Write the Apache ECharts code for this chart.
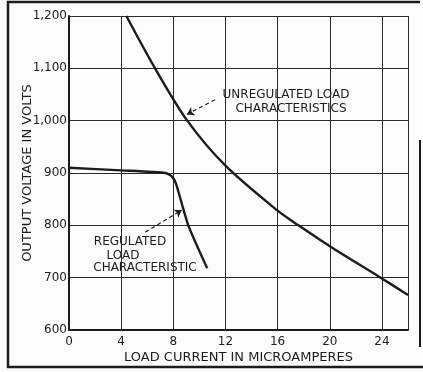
<!DOCTYPE html>
<html>
<head>
<meta charset="utf-8">
<style>
  html, body { margin: 0; padding: 0; background: #fcfcfa; }
  #chart { width: 423px; height: 372px; }
</style>
<script src="https://cdn.jsdelivr.net/npm/echarts@6/dist/echarts.min.js"></script>
</head>
<body>
<div id="chart"></div>
<script>
// Load current (microamperes) vs output voltage (volts)
const currentTicks = [0, 4, 8, 12, 16, 20, 24];
const voltageTicks = [600, 700, 800, 900, 1000, 1100, 1200];

// Unregulated supply: voltage falls steadily with load
const unregulatedCurrent = [4.4, 6.6, 9.07, 12.0, 16.0, 17.6, 20.0, 23.9, 26.0];
const unregulatedVoltage = [1200, 1100, 1000, 914, 828, 800, 760, 700, 667];

// Regulated supply: nearly flat until the regulator drops out
const regulatedCurrent = [0, 4.0, 7.4, 7.9, 8.2, 9.15, 10.6];
const regulatedVoltage = [910, 905, 900, 893, 880, 800, 718];

const ink = '#1c1c1c';
const font = 'DejaVu Sans';

function pairs(xs, ys) { return xs.map((x, i) => [x, ys[i]]); }

const chart = echarts.init(document.getElementById('chart'), null, { renderer: 'canvas' });

chart.setOption({
  backgroundColor: '#fcfcfa',
  animation: false,
  grid: { left: 69, top: 16, right: 15, bottom: 42, containLabel: false },
  xAxis: {
    type: 'value', min: 0, max: 26, interval: 4,
    axisLine: { show: true, onZero: false, lineStyle: { color: ink, width: 2 } },
    axisTick: { show: false },
    splitLine: { show: true, lineStyle: { color: '#2a2a2a', width: 1 } },
    axisLabel: {
      color: ink, fontFamily: font, fontSize: 12, margin: 6,
      showMaxLabel: false,
      formatter: v => currentTicks.includes(v) ? String(v) : ''
    },
    name: 'LOAD CURRENT IN MICROAMPERES',
    nameLocation: 'middle', nameGap: 21, nameMoveOverlap: false,
    nameTextStyle: { color: ink, fontFamily: font, fontSize: 13 }
  },
  yAxis: {
    type: 'value', min: 600, max: 1200, interval: 100,
    axisLine: { show: true, lineStyle: { color: ink, width: 2 } },
    axisTick: { show: false },
    splitLine: { show: true, lineStyle: { color: '#2a2a2a', width: 1 } },
    axisLabel: {
      color: ink, fontFamily: font, fontSize: 12, margin: 2,
      formatter: v => voltageTicks.includes(v) ? v.toLocaleString('en-US') : ''
    },
    name: 'OUTPUT VOLTAGE IN VOLTS',
    nameLocation: 'middle', nameGap: 35, nameMoveOverlap: false,
    nameTextStyle: { color: ink, fontFamily: font, fontSize: 13 }
  },
  series: [
    {
      name: 'UNREGULATED LOAD CHARACTERISTICS',
      type: 'line', smooth: 0.3, symbol: 'none',
      data: pairs(unregulatedCurrent, unregulatedVoltage),
      lineStyle: { color: ink, width: 2.4 },
      markLine: {
        silent: true, symbol: ['none', 'arrow'], symbolSize: 7,
        label: { show: false },
        lineStyle: { color: ink, width: 1.2, type: [4, 3] },
        data: [[{ coord: [11.2, 1040] }, { coord: [9.05, 1012] }]]
      }
    },
    {
      name: 'REGULATED LOAD CHARACTERISTIC',
      type: 'line', smooth: 0.2, symbol: 'none',
      data: pairs(regulatedCurrent, regulatedVoltage),
      lineStyle: { color: ink, width: 2.4 },
      markLine: {
        silent: true, symbol: ['none', 'arrow'], symbolSize: 7,
        label: { show: false },
        lineStyle: { color: ink, width: 1.2, type: [4, 3] },
        data: [[{ coord: [5.85, 787] }, { coord: [8.65, 829] }]]
      }
    }
  ],
  graphic: [
    // outer frame of the figure
    { type: 'polyline', shape: { points: [[420, 2], [8, 2], [8, 367], [423, 367]] },
      style: { stroke: ink, lineWidth: 2.5, fill: null } },
    { type: 'line', shape: { x1: 420, y1: 140, x2: 420, y2: 347 },
      style: { stroke: ink, lineWidth: 2 } },
    // curve annotations
    { type: 'text', x: 286, y: 95, style: { text: 'UNREGULATED LOAD', fill: ink, font: '12px "DejaVu Sans"', align: 'center', verticalAlign: 'middle' } },
    { type: 'text', x: 291, y: 109, style: { text: 'CHARACTERISTICS', fill: ink, font: '12px "DejaVu Sans"', align: 'center', verticalAlign: 'middle' } },
    { type: 'text', x: 130, y: 242, style: { text: 'REGULATED', fill: ink, font: '12px "DejaVu Sans"', align: 'center', verticalAlign: 'middle' } },
    { type: 'text', x: 123, y: 256, style: { text: 'LOAD', fill: ink, font: '12px "DejaVu Sans"', align: 'center', verticalAlign: 'middle' } },
    { type: 'text', x: 145, y: 268, style: { text: 'CHARACTERISTIC', fill: ink, font: '12px "DejaVu Sans"', align: 'center', verticalAlign: 'middle' } }
  ]
});
</script>
</body>
</html>
